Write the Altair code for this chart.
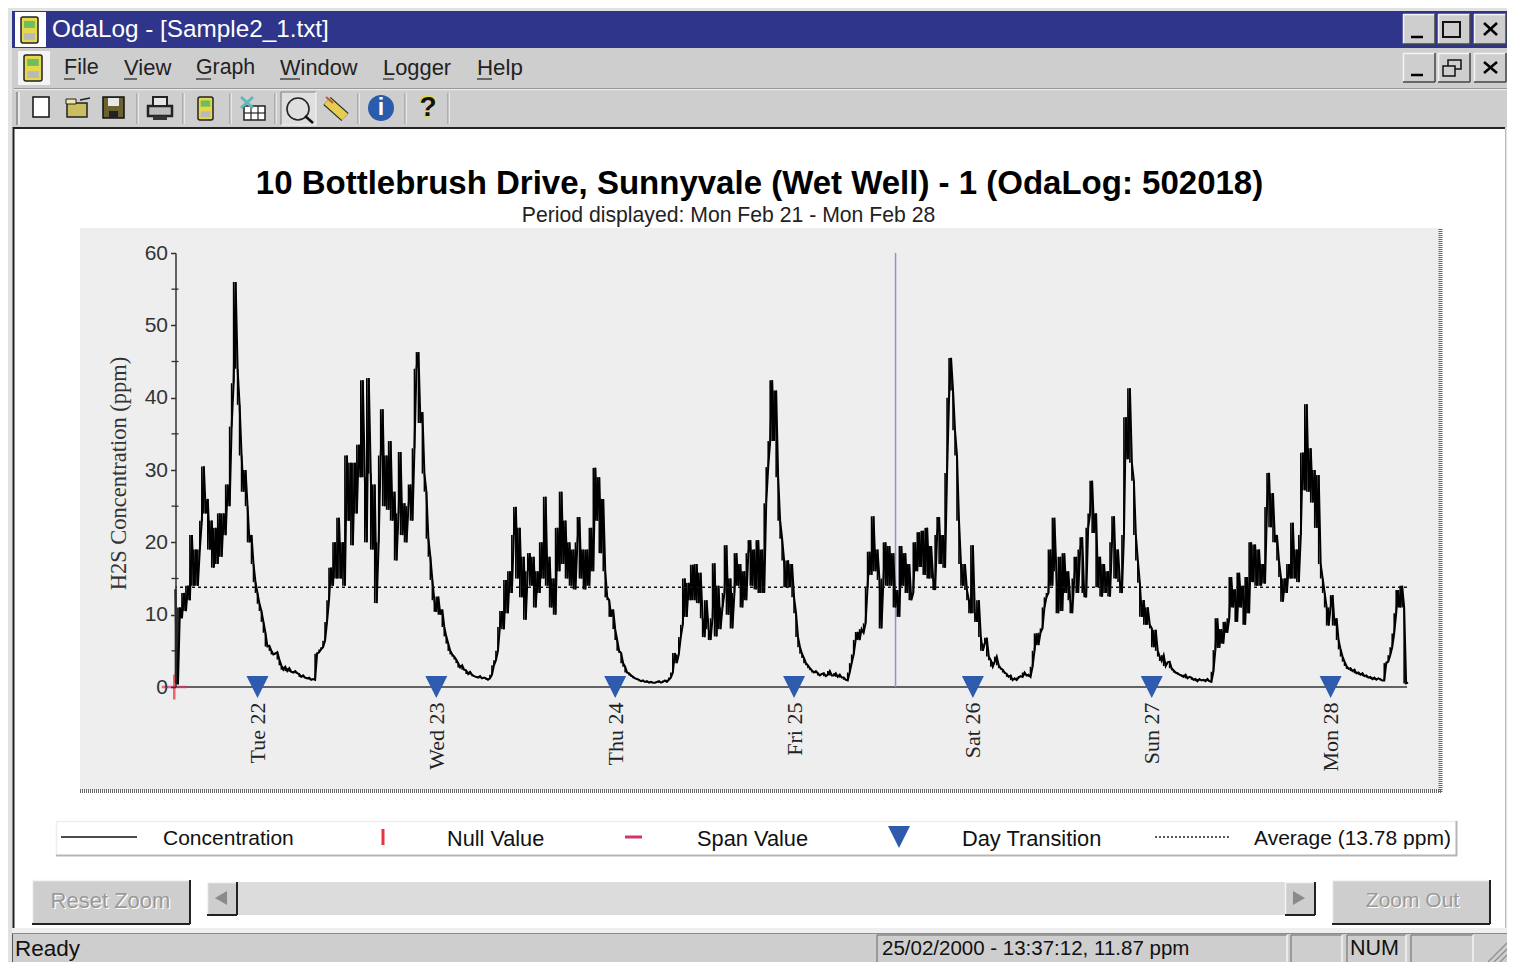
import altair as alt
import pandas as pd
from datetime import datetime, timedelta

# ---------------- data (ppm, one reading per 16 minutes) ----------------
lead_times = ["2000-02-21T13:00:00Z", "2000-02-21T13:10:00Z"]
lead_values = [13.5, 0.5]
mon21 = [0.5,11,9.5,13,10.5, 14,12,21,14,19, 14,19,23,30.5,24, 26,19,23,16.5,22,
         17,24,18,24,21, 28,25,36,42,56, 44,39,32,27,30, 25,20,21,17,14.5]
tue22 = [13,11.5,10.5,9,7.5, 5.6,5.7,5,4.5,4.6, 4.8,3.8,3,2.4,2.8, 2.2,2.6,2.1,2,2.2,
         1.9,1.8,1.4,1.6,1.3, 1.2,1.3,1,1.1,1, 4.6,4.8,5.2,5.5,6.4, 9,12,16.5,14,20,
         15,23.4,15,20,14, 32,23,31,19.6,31, 24,33.5,29,42.4,29, 20,42.7,29.5,19,28,
         11.6,20,32,38.4,25, 32,24.5,34,23,27, 17.5,24,32.5,21,25.4, 20,25,28,23,33,
         44,46.3,36.5,38,29.5, 27,20.5,18,14.8,12]
wed23 = [10.4,12.5,10,10.7,8.3, 7,6,5,4.5,4.2, 3.8,3.3,2.7,3,2.4, 2.3,1.8,2.1,1.7,1.5,
         1.4,1.3,1.5,1.2,1.3, 1.2,1,1.2,1.7,3, 3.7,5,8.3,10.5,8, 14.8,10.2,16,13,21,
         24.9,15,22,12.4,18, 9.3,16,18.5,14,18, 11,16,13,20,15, 26.3,14,18,11,15,
         10,22,16,27,17, 23,15,20,14,19, 13.5,20,23.5,15,19, 13.5,19,14,22,16,
         30.3,23,29,18.5,26, 16,12.4,12,9.7,10.7]
thu24 = [8,6.5,5,4.7,3.3, 2.8,2,1.9,1.6,1.4, 1.2,1.1,1,0.8,0.9, 0.7,0.8,0.6,0.7,0.6,
         0.6,0.7,0.8,0.6,0.7, 0.9,0.7,1,1.3,2, 4.7,3.3,4.5,6.9,8.6, 15,9.7,14.4,12,16.9,
         12,17,11.6,15.8,9.5, 6.9,12,8,6.5,9.5, 17.1,7,14,8,11, 13,19.6,10,15,8.1,
         13,18.5,14,17,11, 16,12,18.5,20.3,14, 19,13.5,20.3,13,19, 13,25.4,30.4,34,42.4,
         34,41,29,23,20.5, 17.5,13.8,17.5,13.8,17]
fri25 = [12.4,10.2,6.9,5.5,4.6, 4,3.3,3,2.6,2.3, 2,2.2,1.9,1.6,1.8, 1.9,1.5,1.7,2.2,1.6,
         1.6,1.9,1.4,1.7,1.3, 1.3,1,0.9,2,3.3, 4.5,6.5,7.6,6.5,8, 7.5,8.8,13.8,18.7,15.5,
         23.6,16,19,14.8,8.1, 15,20,14,19.5,14, 18.5,11,13.4,9.7,19.5, 14,18.5,13,17,12,
         13,20,16,21.4,16.6, 21.6,15.5,22,15,19.5, 15,13.4,21,23.5,17, 21,16.5,29.6,40,45.5,
         41,35.5,32,23,17, 14,17,13.4,12,10.2]
sat26 = [19.6,10.2,9,12,6.9, 5,6,6.8,4.2,3.7, 2.8,3.5,4.2,3,2.6, 2.4,2,1.8,1.4,1.6,
         0.95,1.2,0.95,1.3,1.5, 1.4,2,1.6,1.7,1.4, 2.8,5,7.4,5.8,7.5, 8.1,11,12.4,13,19,
         14,23.4,16,10.2,18, 10.5,18.5,13,16,12, 10.2,15,18,13,19, 20.7,13,12.4,22,24,
         28.5,21.3,24,13.8,18, 12.5,17,13,16,12.5, 20,23.6,15,19,14.5, 13,21,37.3,31.5,41.3,
         31,28.5,21,17.5,14.4, 9.7,12,8.6,11,8.6]
sun27 = [8.1,5.5,7.9,5,4.2, 3.6,4.4,2.9,3.4,3.5, 2.6,2.3,2,1.9,1.7, 1.6,1.4,1.7,1.2,1.4,
         1.3,1,1.1,0.8,1.1, 0.9,1,0.8,1.1,0.8, 0.7,2.1,5.1,9.5,5.4, 8,6,9,7.5,9.5,
         15.2,11,13.5,9,15.8, 11,14,8.6,15.2,10.2, 20,14.5,19.7,14,19, 14,17,14.3,24.9,29.6,
         22.1,26.8,20,21,17.5, 15.2,11.8,15,13,17, 15,22.7,15,19,14.5, 21,32.4,27.2,39.1,27,
         33,25.5,30,22,29.3, 17,15,13,11,8.5]
mon28 = [11,12.7,8.5,9.5,6.5, 5.2,4.2,3.5,2.9,2.5, 2.6,2.2,2.4,1.9,2, 1.7,1.9,1.5,1.6,1.3,
         1.4,1.1,1.3,1,1.2, 1.1,0.9,0.9,3.3,3.5, 4.4,5.5,7.4,10.2,13.4, 11,14,11,0.5,0.6]
day_series = [("2000-02-21T13:20", mon21), ("2000-02-22T00:00", tue22), ("2000-02-23T00:00", wed23),
              ("2000-02-24T00:00", thu24), ("2000-02-25T00:00", fri25), ("2000-02-26T00:00", sat26),
              ("2000-02-27T00:00", sun27), ("2000-02-28T00:00", mon28)]
day_transitions = ["2000-02-22T00:00:00Z", "2000-02-23T00:00:00Z", "2000-02-24T00:00:00Z", "2000-02-25T00:00:00Z",
                   "2000-02-26T00:00:00Z", "2000-02-27T00:00:00Z", "2000-02-28T00:00:00Z"]
cursor_time = "2000-02-25T13:37:12Z"
average = 13.78
y_major = [0, 10, 20, 30, 40, 50, 60]
y_minor = [5, 15, 25, 35, 45, 55]
x_domain = ["2000-02-21T13:00:00Z", "2000-02-28T10:15:00Z"]
null_time = "2000-02-21T12:50:00Z"

times, values = list(lead_times), list(lead_values)
for start, vals in day_series:
    t0 = datetime.fromisoformat(start)
    for i, v in enumerate(vals):
        times.append((t0 + timedelta(minutes=16 * i)).strftime("%Y-%m-%dT%H:%M:%SZ"))
        values.append(v)
series = pd.DataFrame({"t": times, "ppm": values})
series["next_ppm"] = series["ppm"].shift(-1).fillna(series["ppm"])

# ---------------- geometry of the plot inside the window ----------------
OX, OY = 175.5, 253.0
PW, PH = 1231.5, 434.0
one = alt.Data(values=[{"k": 1}])
layers = []

def px(v): return alt.value(v - OX)
def py(v): return alt.value(v - OY)

def rect(x0, y0, x1, y1, fill, **kw):
    layers.append(alt.Chart(one).mark_rect(fill=fill, **kw).encode(x=px(x0), x2=px(x1), y=py(y0), y2=py(y1)))

def line(x0, y0, x1, y1, color, w=1, dash=None):
    kw = {"strokeDash": dash} if dash else {}
    layers.append(alt.Chart(one).mark_rule(color=color, strokeWidth=w, **kw).encode(x=px(x0), x2=px(x1), y=py(y0), y2=py(y1)))

def text(x, y, s, size, color="#111111", font="Liberation Sans", bold=False, align="left", angle=None):
    kw = {"angle": angle} if angle is not None else {}
    layers.append(alt.Chart(one).mark_text(align=align, baseline="middle", fontSize=size, font=font,
                                           fontWeight="bold" if bold else "normal", color=color, **kw)
                  .encode(x=px(x), y=py(y + 1), text=alt.value(s)))

def dot(x, y, d, color, shape="circle", filled=True, w=1):
    layers.append(alt.Chart(one).mark_point(shape=shape, filled=filled, opacity=1, color=color, strokeWidth=w, size=d * d)
                  .encode(x=px(x), y=py(y)))

GREY = "#cecece"

def raised(x0, y0, x1, y1, dark="#222222", w=2):
    rect(x0, y0, x1, y1, GREY)
    line(x0, y0 + .5, x1, y0 + .5, "#f4f4f4", 1.5)
    line(x0 + .5, y0, x0 + .5, y1, "#f4f4f4", 1.5)
    line(x0, y1, x1, y1, dark, w)
    line(x1, y0, x1, y1, dark, w)

def sunken(x0, y0, x1, y1):
    line(x0, y0, x1, y0, "#888888", 1.5)
    line(x0, y0, x0, y1, "#888888", 1.5)
    line(x1, y0, x1, y1, "#f4f4f4", 1.5)

def device(x0, y0, x1, y1):
    w, h = x1 - x0, y1 - y0
    rect(x0, y0, x1, y1, "#e6d84c", stroke="#222222", strokeWidth=1.5, cornerRadius=2)
    rect(x0 + w * .18, y0 + h * .15, x1 - w * .18, y0 + h * .42, "#6fbe5e")
    rect(x0 + w * .18, y0 + h * .62, x1 - w * .18, y0 + h * .88, "#b9b9b9")

# ---------------- window frame ----------------
rect(6, 6, 1510, 962, "#e2e2e2")
rect(12, 11, 1510, 128, GREY)
rect(12, 11, 1510, 48, "#2e358a")
rect(14, 129, 1505, 928, "#ffffff")
line(13.5, 127, 13.5, 930, "#222222", 2)
line(13, 128, 1505, 128, "#222222", 2)
line(1505.5, 129, 1505.5, 930, "#bbbbbb", 1)
rect(12, 928, 1510, 933, "#efefef")
rect(12, 934, 1510, 962, GREY)
line(12, 933.5, 1510, 933.5, "#8a8a8a", 1.2)
line(12.5, 934, 12.5, 962, "#555555", 1)
line(14, 88.5, 1510, 88.5, "#999999", 1)
line(14, 89.7, 1510, 89.7, "#f2f2f2", 1)

# title bar
rect(15, 12, 46, 47, "#ffffff")
device(21, 17, 38, 43)
text(52, 29, "OdaLog - [Sample2_1.txt]", 24.3, "#ffffff")
for y0, y1 in [(14, 44), (53, 82)]:
    raised(1403, y0, 1435, y1, "#444444", 1.5)
    line(1411, y1 - 7, 1423, y1 - 7, "#000000", 2.5)
    raised(1438, y0, 1470, y1, "#444444", 1.5)
    raised(1474, y0, 1506, y1, "#444444", 1.5)
    line(1484, y0 + 9, 1497, y1 - 9, "#000000", 2.5)
    line(1497, y0 + 9, 1484, y1 - 9, "#000000", 2.5)
rect(1443, 22, 1460, 37, GREY, stroke="#111111", strokeWidth=2)
rect(1448, 60, 1461, 69, GREY, stroke="#111111", strokeWidth=1.5)
rect(1443, 66, 1455, 76, GREY, stroke="#111111", strokeWidth=1.5)

# menu bar
rect(18, 51, 50, 85, "#f4f4f4")
device(24, 55, 42, 81)
menu_items = [(64, "File", 21.5, 11), (124, "View", 22, 13), (196, "Graph", 21.3, 15),
              (280, "Window", 21.8, 20), (383, "Logger", 21.9, 11), (477, "Help", 22.3, 15)]
for mx, word, fs, under in menu_items:
    text(mx, 67, word, fs, "#222222")
    line(mx, 79, mx + under, 79, "#222222", 1.2)

# toolbar
line(17, 92, 17, 125, "#888888", 1.5)
line(19, 92, 19, 125, "#f4f4f4", 1.5)
for sx in [137, 183, 230, 275, 358, 405, 448]:
    line(sx, 93, sx, 124, "#999999", 1.2)
    line(sx + 1.2, 93, sx + 1.2, 124, "#f4f4f4", 1)
rect(33, 97, 49, 117, "#ffffff", stroke="#111111", strokeWidth=1.5)
rect(67, 103, 87, 117, "#cbbd62", stroke="#222222", strokeWidth=1.5)
rect(66, 99, 76, 104, "#efe8a8", stroke="#222222", strokeWidth=1)
line(80, 100, 90, 98, "#222222", 1.5)
rect(103, 97, 124, 118, "#6b6230", stroke="#111111", strokeWidth=1.5)
rect(108, 98, 119, 106, "#e8e8e8")
rect(109, 111, 118, 118, "#222222")
rect(148, 106, 172, 116, "#bdbdbd", stroke="#222222", strokeWidth=2.5)
rect(153, 97, 167, 106, "#e8e8e8", stroke="#222222", strokeWidth=2)
rect(153, 116, 167, 120, "#333333")
device(198, 97, 213, 120)
rect(244, 106, 265, 120, "#ffffff", stroke="#222222", strokeWidth=1.5)
for gx in [251, 258]:
    line(gx, 106, gx, 120, "#222222", 1.2)
line(244, 113, 265, 113, "#222222", 1.2)
line(241, 97, 253, 108, "#63b7bb", 3)
line(253, 97, 241, 108, "#63b7bb", 3)
rect(281, 92, 316, 125, "#dfdfdf")
line(281, 92, 316, 92, "#888888", 1.2)
line(281, 92, 281, 125, "#888888", 1.2)
line(316, 92, 316, 125, "#f4f4f4", 1.2)
line(281, 125, 316, 125, "#f4f4f4", 1.2)
dot(298, 109, 22, "#222222", filled=False, w=1.6)
line(305, 116, 313, 123, "#111111", 2.5)
line(327, 101, 345, 117, "#222222", 11)
line(327, 101, 345, 117, "#e6cc50", 8.5)
line(326, 97, 333, 103, "#b55a4a", 2)
dot(381, 108, 26, "#2a5cab")
text(381, 107, "i", 23, "#ffffff", bold=True, align="center")
text(428, 107, "?", 31, "#e8d83f", bold=True, align="center")
text(428, 107, "?", 28, "#111111", bold=True, align="center")

# chart titles
text(759.5, 182.5, "10 Bottlebrush Drive, Sunnyvale (Wet Well) - 1 (OdaLog: 502018)", 33, "#000000", bold=True, align="center")
text(728.5, 214.5, "Period displayed: Mon Feb 21 - Mon Feb 28", 21.2, "#222222", align="center")

# plot panel
rect(80, 228, 1440, 790, "#eeeeee")
line(80, 791, 1442, 791, "#666666", 4, [1, 1])
line(1440.5, 229, 1440.5, 792, "#666666", 4, [1, 1])

# legend box
rect(56, 821, 1457, 856, "#ffffff")
line(56, 821.5, 1457, 821.5, "#eeeeee", 1.5)
line(56.5, 821, 56.5, 856, "#eeeeee", 1.5)
line(56, 855.5, 1457, 855.5, "#b5b5b5", 2)
line(1456.5, 821, 1456.5, 856, "#b5b5b5", 2)
line(61, 837, 137, 837, "#111111", 1.5)
text(163, 838, "Concentration", 21)
line(383, 829, 383, 845, "#e8333a", 3)
text(447, 838, "Null Value", 21.7)
line(625, 837, 642, 837, "#d4336f", 3)
text(697, 838, "Span Value", 21.8)
text(962, 838, "Day Transition", 21.8)
line(1155, 837, 1229, 837, "#222222", 1.5, [2, 2])
text(1254, 838, "Average (13.78 ppm)", 21)
TRI = "M-1,-1L1,-1L0,1Z"
layers.append(alt.Chart(one).mark_point(shape=TRI, filled=True, opacity=1, color="#2e5bae", size=484)
              .encode(x=px(899), y=py(837)))

# buttons and scroll bar
raised(32, 880, 190, 924)
text(111.7, 901.2, "Reset Zoom", 22, "#ffffff", align="center")
text(110.5, 900, "Reset Zoom", 22, "#9a9a9a", align="center")
raised(1332, 880, 1490, 924)
text(1413.7, 901.2, "Zoom Out", 21, "#ffffff", align="center")
text(1412.5, 900, "Zoom Out", 21, "#9a9a9a", align="center")
rect(207, 882, 1315, 915, "#dcdcdc")
raised(207, 882, 237, 915)
raised(1285, 882, 1315, 915)
dot(221, 898, 14, "#8a8a8a", shape="triangle-left")
dot(1299, 898, 14, "#8a8a8a", shape="triangle-right")

# status bar
text(15, 948, "Ready", 22.5)
sunken(877, 935, 1287, 962)
text(882, 948, "25/02/2000 - 13:37:12, 11.87 ppm", 20.5)
sunken(1291, 935, 1342, 962)
sunken(1347, 935, 1406, 962)
text(1350, 948, "NUM", 21.5)
sunken(1411, 935, 1473, 962)
for g in [0, 6, 12]:
    line(1488 + g, 962, 1507, 943 + g, "#8f8f8f", 1.3)

# ---------------- the chart itself ----------------
x_scale = alt.Scale(type="utc", domain=x_domain)
y_scale = alt.Scale(domain=[0, 60], nice=False)
x_enc = alt.X("t:T", scale=x_scale,
              axis=alt.Axis(title=None, domain=False, ticks=False, grid=False, values=day_transitions,
                            labelExpr="utcFormat(datum.value, '%a %d')", labelAngle=270, labelAlign="right",
                            labelBaseline="middle", labelPadding=15, labelFont="Liberation Serif", labelFontSize=22,
                            labelColor="#222222", labelOverlap=False, zindex=1))
y_enc = alt.Y("ppm:Q", scale=y_scale,
              axis=alt.Axis(title="H2S Concentration (ppm)", titleFont="Liberation Serif", titleFontSize=22.5,
                            titleFontWeight="normal", titleColor="#333333", titleX=-45.5, titleY=220, titleAlign="center",
                            grid=False, values=y_major, tickSize=5, tickColor="#333333", domainColor="#333333",
                            domainWidth=1.5, tickWidth=1.5, labelFont="Liberation Sans", labelFontSize=21,
                            labelColor="#333333", labelPadding=3, zindex=1))

minor = pd.DataFrame({"ppm": y_minor})
layers.append(alt.Chart(minor).mark_rule(color="#333333", strokeWidth=1.3)
              .encode(y=alt.Y("ppm:Q", scale=y_scale), x=alt.value(-4), x2=alt.value(3)))
layers.append(alt.Chart(one).mark_rule(color="#333333", strokeWidth=1.5)
              .encode(y=alt.datum(0, scale=y_scale)))
layers.append(alt.Chart(pd.DataFrame({"t": [cursor_time]})).mark_rule(color="#9b8fcb", strokeWidth=1.5)
              .encode(x=alt.X("t:T", scale=x_scale)))
layers.append(alt.Chart(series).mark_line(color="#000000", strokeWidth=2, interpolate="linear", strokeJoin="miter")
              .encode(x=x_enc, y=y_enc))
layers.append(alt.Chart(series).mark_rule(color="#000000", strokeWidth=1.6)
              .encode(x=alt.X("t:T", scale=x_scale), y=alt.Y("ppm:Q", scale=y_scale), y2="next_ppm:Q"))
layers.append(alt.Chart(one).mark_rule(color="#111111", strokeWidth=1.4, strokeDash=[3, 3])
              .encode(y=alt.datum(average, scale=y_scale)))
layers.append(alt.Chart(pd.DataFrame({"t": day_transitions, "ppm": [0] * len(day_transitions)}))
              .mark_point(shape=TRI, filled=True, opacity=1, color="#2e5bae", size=484)
              .encode(x=alt.X("t:T", scale=x_scale), y=alt.Y("ppm:Q", scale=y_scale)))
origin = pd.DataFrame({"t": [null_time], "ppm": [0]})
layers.append(alt.Chart(origin).mark_tick(orient="horizontal", size=25, thickness=2.5, color="#d4336f")
              .encode(x=alt.X("t:T", scale=x_scale), y=alt.Y("ppm:Q", scale=y_scale)))
layers.append(alt.Chart(origin).mark_tick(orient="vertical", size=25, thickness=2.5, color="#ee2c36")
              .encode(x=alt.X("t:T", scale=x_scale), y=alt.Y("ppm:Q", scale=y_scale)))

chart = alt.layer(*layers).properties(
    width=PW, height=PH,
    autosize=alt.AutoSizeParams(type="none"),
    padding={"left": OX - 8, "top": OY - 8, "right": 1507 - OX - PW, "bottom": 954 - (OY - 8) - PH},
    background="#ffffff",
).configure_view(stroke=None)

chart.save("out.html", embed_options={"renderer": "svg", "actions": False})
